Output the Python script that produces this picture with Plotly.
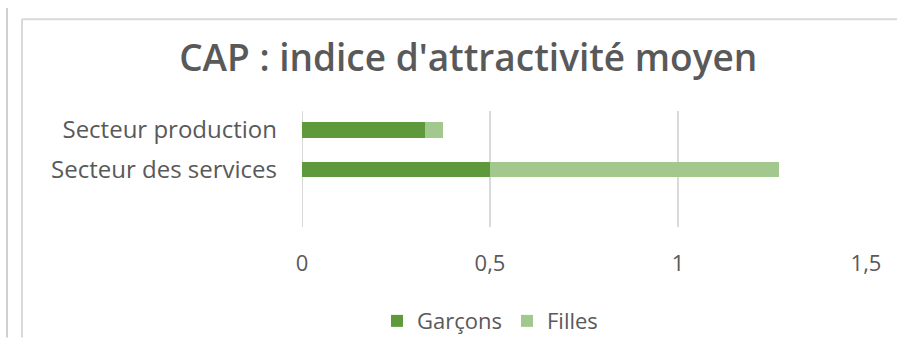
import plotly.graph_objects as go

# Data
categories = ["Secteur des services", "Secteur production"]
garcons = [0.50, 0.327]
filles = [0.769, 0.048]
x_ticks = [0, 0.5, 1, 1.5]
x_tick_labels = ["0", "0,5", "1", "1,5"]

DARK = "#5E9A3B"
LIGHT = "#A2C88D"
TEXT = "#595959"
GRID = "#D9D9D9"
FONT = "Open Sans"

fig = go.Figure()
fig.add_trace(go.Bar(y=categories, x=garcons, name="Garçons", orientation="h",
                     marker=dict(color=DARK, line=dict(width=0)), width=0.4))
fig.add_trace(go.Bar(y=categories, x=filles, name="Filles", orientation="h",
                     marker=dict(color=LIGHT, line=dict(width=0)), width=0.4))

W, H = 897, 355
L, R, T, B = 302, 31, 111, 119
pw, ph = W - L - R, H - T - B

def px_x(p):
    return (p - L) / pw

def px_y(p):
    return (H - B - p) / ph

fig.update_layout(
    width=W, height=H,
    margin=dict(l=L, r=R, t=T, b=B, pad=0),
    barmode="stack",
    paper_bgcolor="white", plot_bgcolor="white",
    font=dict(family=FONT, color=TEXT, size=21),
    title=dict(text="CAP : indice d'attractivité moyen", x=0.522, xanchor="center",
               y=1 - 58 / H, yanchor="middle", yref="container",
               font=dict(family=FONT, size=37, color=TEXT, weight=600)),
    xaxis=dict(range=[0, 1.5], tickvals=x_ticks, ticktext=x_tick_labels,
               showgrid=True, gridcolor=GRID, gridwidth=2,
               zeroline=False, showline=False, ticks="",
               ticklabelstandoff=21, tickfont=dict(size=22, color=TEXT)),
    yaxis=dict(type="category", categoryorder="array", categoryarray=categories,
               range=[-1.459, 1.482], showgrid=False, zeroline=False,
               showline=False, ticks="", ticklabelstandoff=24,
               tickfont=dict(size=24, color=TEXT)),
    legend=dict(orientation="h", x=px_x(490), xanchor="center",
                y=px_y(360), yanchor="bottom", font=dict(size=22, color=TEXT),
                traceorder="normal", itemwidth=30, borderwidth=0),
    showlegend=True,
)

# Gridline at zero drawn like the other gridlines
fig.add_shape(type="line", xref="x", yref="paper", x0=0, x1=0, y0=0, y1=1,
              line=dict(color=GRID, width=2), layer="below")

# Chart frame lines
fig.add_shape(type="line", xref="paper", yref="paper",
              x0=px_x(7), x1=px_x(7), y0=px_y(0), y1=px_y(H),
              line=dict(color="#D0D0D0", width=2))
fig.add_shape(type="line", xref="paper", yref="paper",
              x0=px_x(22), x1=px_x(22), y0=px_y(12), y1=px_y(H),
              line=dict(color="#D9D9D9", width=2))
fig.add_shape(type="line", xref="paper", yref="paper",
              x0=px_x(22), x1=px_x(W), y0=px_y(12), y1=px_y(12),
              line=dict(color="#D9D9D9", width=2))

fig.write_html("out.html")
